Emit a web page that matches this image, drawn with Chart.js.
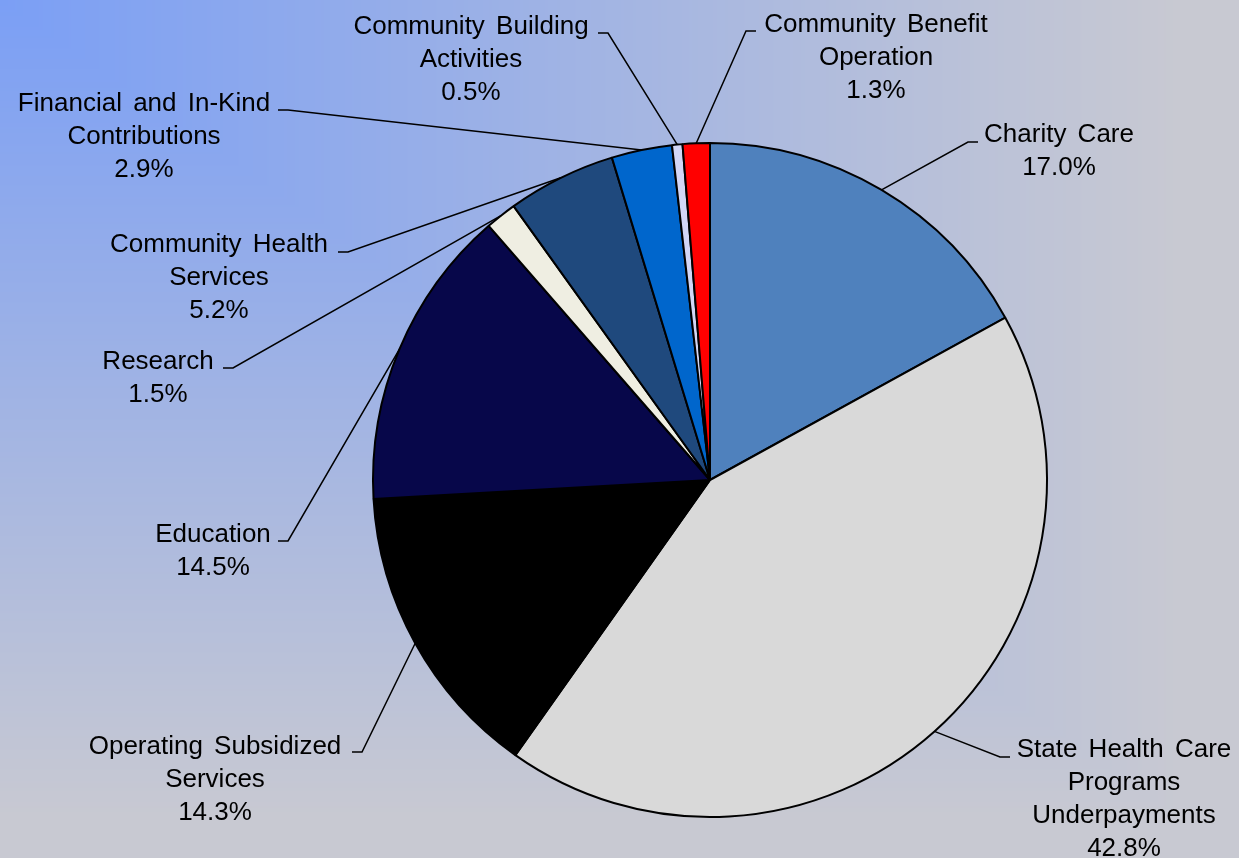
<!DOCTYPE html>
<html>
<head>
<meta charset="utf-8">
<title>Community Benefit</title>
<script src="https://cdn.jsdelivr.net/npm/chart.js@4/dist/chart.umd.min.js"></script>
<style>
  html, body { margin: 0; padding: 0; background: #c8c8d0; }
  #wrap { width: 1239px; height: 858px; }
</style>
</head>
<body>
<div id="wrap"><canvas id="pie" width="1239" height="858"></canvas></div>
<script>
// Kategorien (Zeilenumbruch wie in der Beschriftung)
const categories = [
  "Charity Care",
  "State Health Care\nPrograms\nUnderpayments",
  "Operating Subsidized\nServices",
  "Education",
  "Research",
  "Community Health\nServices",
  "Financial and In-Kind\nContributions",
  "Community Building\nActivities",
  "Community Benefit\nOperation"
];
// Anteile in Prozent
const shares = [17.0, 42.8, 14.3, 14.5, 1.5, 5.2, 2.9, 0.5, 1.3];
const sliceColors = [
  "#4f81bd", "#d9d9d9", "#000000", "#07074a", "#efeee2",
  "#1f497d", "#0066cc", "#d2d6f6", "#ff0000"
];

// Position der Beschriftungen: Knickpunkt der Führungslinie, Seite, Textmitte
const labelLayout = [
  { ex: 968,  ey: 142, side: "right", tx: 1059, ty: 135 },
  { ex: 1000, ey: 757, side: "right", tx: 1124, ty: 750 },
  { ex: 362,  ey: 752, side: "left",  tx: 215,  ty: 747 },
  { ex: 288,  ey: 541, side: "left",  tx: 213,  ty: 535 },
  { ex: 233,  ey: 368, side: "left",  tx: 158,  ty: 362 },
  { ex: 348,  ey: 252, side: "left",  tx: 219,  ty: 245 },
  { ex: 288,  ey: 110, side: "left",  tx: 144,  ty: 104 },
  { ex: 608,  ey: 33,  side: "left",  tx: 471,  ty: 27 },
  { ex: 746,  ey: 31,  side: "right", tx: 876,  ty: 25 }
];

const W = 1239, H = 858;

// Hintergrund: Verlauf aus der linken oberen Ecke (rechteckiger Pfad)
let bgImage = null;
function buildBackground(ctx) {
  const img = ctx.createImageData(W, H);
  const c0 = [123, 159, 245], c1 = [200, 201, 210];
  for (let y = 0; y < H; y++) {
    for (let x = 0; x < W; x++) {
      let t = Math.max(x / W, y / H);
      t = Math.min(1, t * 1.05);
      const i = (y * W + x) * 4;
      img.data[i]     = c0[0] + (c1[0] - c0[0]) * t;
      img.data[i + 1] = c0[1] + (c1[1] - c0[1]) * t;
      img.data[i + 2] = c0[2] + (c1[2] - c0[2]) * t;
      img.data[i + 3] = 255;
    }
  }
  return img;
}

const backgroundPlugin = {
  id: "gradientBackground",
  beforeDraw(chart) {
    const ctx = chart.ctx;
    if (!bgImage) bgImage = buildBackground(ctx);
    ctx.putImageData(bgImage, 0, 0);
  }
};

// Beschriftungen mit Führungslinien
const leaderLabels = {
  id: "leaderLabels",
  afterDatasetsDraw(chart) {
    const ctx = chart.ctx;
    const arcs = chart.getDatasetMeta(0).data;
    ctx.save();
    ctx.strokeStyle = "#000";
    ctx.lineWidth = 1.5;
    ctx.fillStyle = "#000";
    ctx.font = "26px 'Liberation Sans', Arial, sans-serif";
    ctx.textAlign = "center";
    ctx.textBaseline = "middle";
    if ("wordSpacing" in ctx) ctx.wordSpacing = "4px";

    arcs.forEach((arc, i) => {
      const p = arc.getProps(["x", "y", "startAngle", "endAngle", "outerRadius"], true);
      const mid = (p.startAngle + p.endAngle) / 2;
      const ax = p.x + Math.cos(mid) * p.outerRadius;
      const ay = p.y + Math.sin(mid) * p.outerRadius;
      const L = labelLayout[i];
      const tickEnd = L.side === "right" ? L.ex + 10 : L.ex - 10;

      ctx.beginPath();
      ctx.moveTo(ax, ay);
      ctx.lineTo(L.ex, L.ey);
      ctx.lineTo(tickEnd, L.ey);
      ctx.stroke();

      const lines = categories[i].split("\n");
      lines.push(shares[i].toFixed(1) + "%");
      lines.forEach((txt, k) => {
        ctx.fillText(txt, L.tx, L.ty + k * 33);
      });
    });
    ctx.restore();
  }
};

new Chart(document.getElementById("pie").getContext("2d"), {
  type: "pie",
  data: {
    labels: categories,
    datasets: [{
      data: shares,
      backgroundColor: sliceColors,
      borderColor: "#000000",
      borderWidth: 2
    }]
  },
  options: {
    responsive: false,
    animation: false,
    layout: { padding: { left: 372, right: 191, top: 142, bottom: 40 } },
    plugins: {
      legend: { display: false },
      tooltip: { enabled: false }
    }
  },
  plugins: [backgroundPlugin, leaderLabels]
});
</script>
</body>
</html>
